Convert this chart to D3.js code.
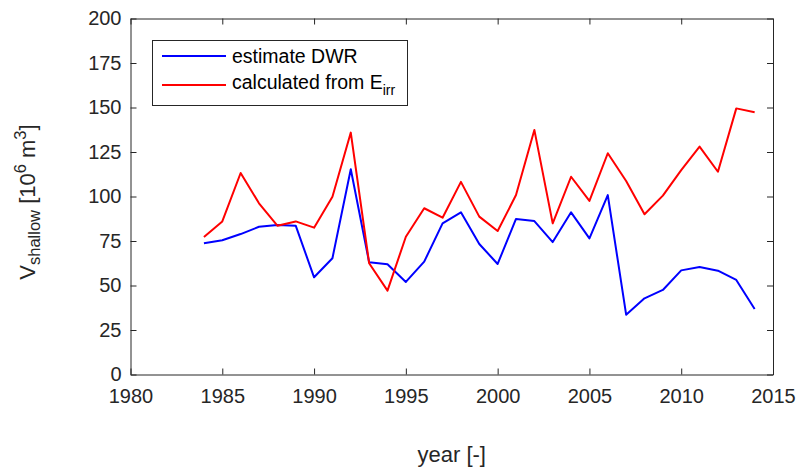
<!DOCTYPE html>
<html>
<head>
<meta charset="utf-8">
<script src="https://cdn.jsdelivr.net/npm/d3@7"></script>
<style>
  body { margin: 0; background: #fff; }
  svg { display: block; font-family: "Liberation Sans", Arial, Helvetica, sans-serif; }
  .axis path, .axis line { stroke: #262626; }
  .axis text { fill: #262626; font-size: 20px; }
</style>
</head>
<body>
<div class="chart"></div>
<script>
const years = [1984,1985,1986,1987,1988,1989,1990,1991,1992,1993,1994,1995,1996,1997,1998,1999,
               2000,2001,2002,2003,2004,2005,2006,2007,2008,2009,2010,2011,2012,2013,2014]
const dwr = [73.7,75.4,78.9,83.0,84.0,83.6,54.6,65.3,115.3,63.0,61.9,52.0,63.4,84.9,91.1,73.3,
             62.1,87.4,86.2,74.4,91.1,76.5,100.8,33.6,42.8,47.5,58.5,60.4,58.3,53.1,36.8]
const eirr = [77.2,86.0,113.2,96.2,83.6,86.0,82.5,99.9,135.9,62.5,47.1,77.4,93.4,88.1,108.2,88.7,
              80.6,100.8,137.4,84.9,111.1,97.5,124.3,108.7,90.0,100.5,114.8,128.0,113.9,149.5,147.3]
const xTicks = [1980,1985,1990,1995,2000,2005,2010,2015]
const yTicks = [0,25,50,75,100,125,150,175,200]

const w = 800, h = 468
const pLeft = 130.5, pRight = 773, pTop = 18.5, pBottom = 374.5

const svg = d3.select('.chart').append('svg')
              .attr('width', w)
              .attr('height', h)

const xScale = d3.scaleLinear().domain([1980, 2015]).range([pLeft, pRight])
const yScale = d3.scaleLinear().domain([0, 200]).range([pBottom, pTop])

// lines
const line = (vals) => d3.line()
    .x((d, i) => xScale(years[i]))
    .y((d) => yScale(d))(vals)

svg.append('path')
   .attr('d', line(dwr))
   .attr('fill', 'none')
   .attr('stroke', '#0000ff')
   .attr('stroke-width', 2)
   .attr('stroke-linejoin', 'round')
svg.append('path')
   .attr('d', line(eirr))
   .attr('fill', 'none')
   .attr('stroke', '#ff0000')
   .attr('stroke-width', 2)
   .attr('stroke-linejoin', 'round')

// axes, ticks pointing inward on all four sides
svg.append('g').attr('class', 'axis')
   .attr('transform', `translate(0,${pBottom})`)
   .call(d3.axisBottom(xScale).tickValues(xTicks).tickFormat(d3.format('d'))
           .tickSizeInner(-6).tickSizeOuter(0).tickPadding(14))
svg.append('g').attr('class', 'axis')
   .attr('transform', `translate(0,${pTop})`)
   .call(d3.axisTop(xScale).tickValues(xTicks).tickFormat('')
           .tickSizeInner(-6).tickSizeOuter(0))
svg.append('g').attr('class', 'axis')
   .attr('transform', `translate(${pLeft},0)`)
   .call(d3.axisLeft(yScale).tickValues(yTicks)
           .tickSizeInner(-6).tickSizeOuter(0).tickPadding(9))
svg.append('g').attr('class', 'axis')
   .attr('transform', `translate(${pRight},0)`)
   .call(d3.axisRight(yScale).tickValues(yTicks).tickFormat('')
           .tickSizeInner(-6).tickSizeOuter(0))

// axis labels
svg.append('text')
   .attr('x', (pLeft + pRight) / 2)
   .attr('y', 462)
   .attr('text-anchor', 'middle')
   .attr('fill', '#262626')
   .style('font-size', '22px')
   .text('year [-]')

const ylab = svg.append('text')
   .attr('transform', 'translate(35,202) rotate(-90)')
   .attr('text-anchor', 'middle')
   .attr('fill', '#262626')
   .style('font-size', '22px')
ylab.append('tspan').text('V')
ylab.append('tspan').attr('dy', 5).style('font-size', '16.5px').text('shallow')
ylab.append('tspan').attr('dy', -5).text(' [10')
ylab.append('tspan').attr('dy', -9).style('font-size', '16.5px').text('6')
ylab.append('tspan').attr('dy', 9).text(' m')
ylab.append('tspan').attr('dy', -9).style('font-size', '16.5px').text('3')
ylab.append('tspan').attr('dy', 9).text(']')

// legend
const legend = svg.append('g').attr('id', 'legend')
legend.append('rect')
      .attr('x', 152.5).attr('y', 40.5)
      .attr('width', 255).attr('height', 65)
      .attr('fill', '#fff')
      .attr('stroke', '#262626')

legend.append('line')
      .attr('x1', 162).attr('x2', 226).attr('y1', 56).attr('y2', 56)
      .attr('stroke', '#0000ff').attr('stroke-width', 2)
legend.append('text')
      .attr('x', 232).attr('y', 63)
      .attr('fill', '#000')
      .style('font-size', '19.5px')
      .text('estimate DWR')

legend.append('line')
      .attr('x1', 162).attr('x2', 226).attr('y1', 85).attr('y2', 85)
      .attr('stroke', '#ff0000').attr('stroke-width', 2)
const t2 = legend.append('text')
      .attr('x', 232).attr('y', 89)
      .attr('fill', '#000')
      .style('font-size', '19.5px')
t2.append('tspan').text('calculated from E')
t2.append('tspan').attr('dy', 6).style('font-size', '14px').text('irr')
</script>
</body>
</html>
